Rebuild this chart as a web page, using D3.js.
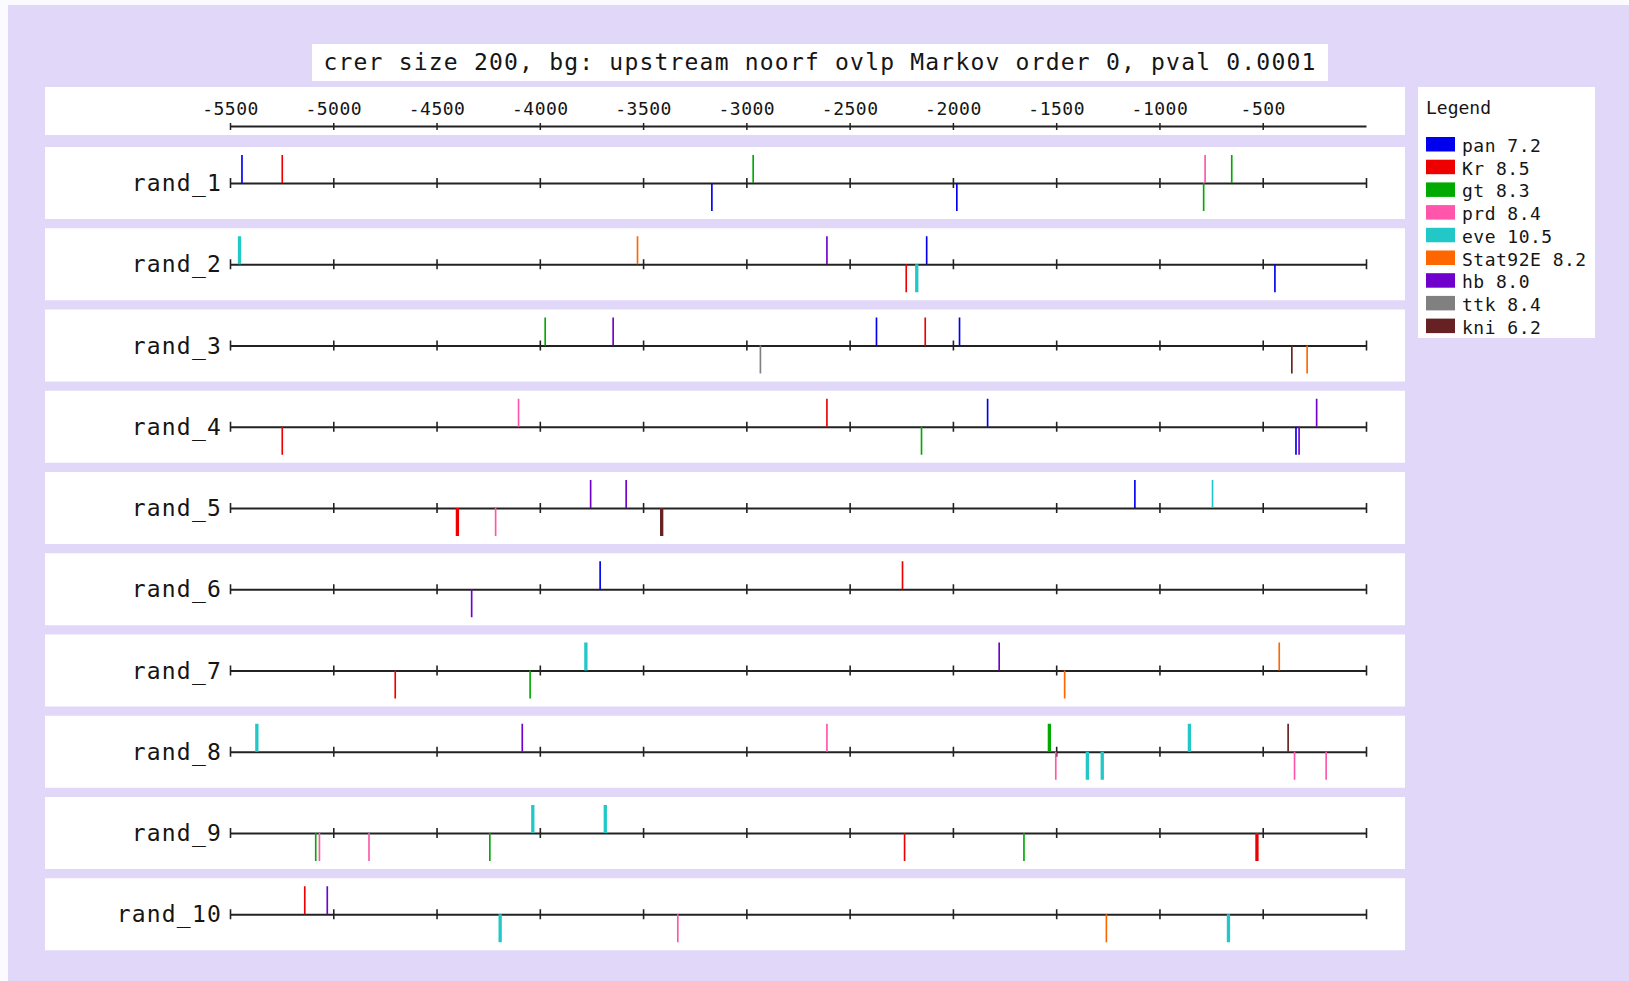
<!DOCTYPE html>
<html>
<head>
<meta charset="utf-8">
<script src="https://cdn.jsdelivr.net/npm/d3@7"></script>
<style>
  body { margin: 0; background: #fbfaff; }
  text { font-family: "DejaVu Sans Mono", monospace; fill: #151515; }
</style>
</head>
<body>
<svg id="chart"></svg>
<script>
// title and axis
var title = "crer size 200, bg: upstream noorf ovlp Markov order 0, pval 0.0001";
var axisStart = -5500, axisEnd = 0;
var axisTicks = [-5500, -5000, -4500, -4000, -3500, -3000, -2500, -2000, -1500, -1000, -500];

// factors shown in the legend
var factors = ["pan", "Kr", "gt", "prd", "eve", "Stat92E", "hb", "ttk", "kni"];
var thresholds = [7.2, 8.5, 8.3, 8.4, 10.5, 8.2, 8.0, 8.4, 6.2];

// sequences
var sequences = ["rand_1", "rand_2", "rand_3", "rand_4", "rand_5", "rand_6", "rand_7", "rand_8", "rand_9", "rand_10"];

// hits per sequence: [factor, position, strand, site length]
var rand1 = [["pan", -5442, "+", 8], ["Kr", -5247, "+", 8], ["pan", -3167, "-", 8], ["gt", -2967, "+", 8],
  ["pan", -1981, "-", 8], ["prd", -779, "+", 8], ["gt", -786, "-", 8], ["gt", -650, "+", 8]];
var rand2 = [["eve", -5454, "+", 16], ["Stat92E", -3527, "+", 8], ["hb", -2610, "+", 8], ["pan", -2127, "+", 8],
  ["Kr", -2226, "-", 8], ["eve", -2175, "-", 16], ["pan", -441, "-", 8]];
var rand3 = [["gt", -3974, "+", 8], ["hb", -3645, "+", 8], ["ttk", -2932, "-", 8], ["pan", -2370, "+", 8],
  ["Kr", -2134, "+", 8], ["pan", -1968, "+", 8], ["kni", -359, "-", 8], ["Stat92E", -285, "-", 8]];
var rand4 = [["Kr", -5247, "-", 8], ["prd", -4103, "+", 8], ["Kr", -2610, "+", 8], ["gt", -2152, "-", 8],
  ["pan", -1832, "+", 8], ["pan", -339, "-", 8], ["hb", -324, "-", 8], ["hb", -239, "+", 8]];
var rand5 = [["Kr", -4399, "-", 16], ["prd", -4214, "-", 8], ["hb", -3754, "+", 8], ["hb", -3582, "+", 8],
  ["kni", -3410, "-", 16], ["pan", -1119, "+", 8], ["eve", -743, "+", 8]];
var rand6 = [["hb", -4330, "-", 8], ["pan", -3708, "+", 8], ["Kr", -2244, "+", 8]];
var rand7 = [["Kr", -4700, "-", 8], ["gt", -4047, "-", 8], ["eve", -3777, "+", 16], ["hb", -1776, "+", 8],
  ["Stat92E", -1459, "-", 8], ["Stat92E", -420, "+", 8]];
var rand8 = [["eve", -5370, "+", 16], ["hb", -4085, "+", 8], ["prd", -2610, "+", 8], ["gt", -1533, "+", 16],
  ["prd", -1502, "-", 8], ["eve", -1349, "-", 16], ["eve", -1277, "-", 16], ["eve", -855, "+", 16],
  ["kni", -377, "+", 8], ["prd", -346, "-", 8], ["prd", -193, "-", 8]];
var rand9 = [["gt", -5085, "-", 8], ["prd", -5067, "-", 8], ["prd", -4827, "-", 8], ["gt", -4242, "-", 8],
  ["eve", -4034, "+", 16], ["eve", -3683, "+", 16], ["Kr", -2234, "-", 8], ["gt", -1656, "-", 8],
  ["Kr", -528, "-", 16]];
var rand10 = [["Kr", -5138, "+", 8], ["hb", -5029, "+", 8], ["eve", -4192, "-", 16], ["prd", -3332, "-", 8],
  ["Stat92E", -1257, "-", 8], ["eve", -666, "-", 16]];
var hits = [rand1, rand2, rand3, rand4, rand5, rand6, rand7, rand8, rand9, rand10];

var palette = ["#0000ee", "#ee0000", "#00aa00", "#ff55aa", "#22c8c8", "#ff6600", "#7000cc", "#808080", "#662222"];

var width = 1629, height = 981;
var svg = d3.select("#chart").attr("width", width).attr("height", height);

// lavender panel
svg.append("rect").attr("x", 8).attr("y", 5).attr("width", width - 8).attr("height", height - 5)
  .attr("fill", "#e1d7f9");

var x = d3.scaleLinear().domain([axisStart, axisEnd]).range([230, 1366]);
var color = d3.scaleOrdinal().domain(factors).range(palette);

var step = 81.25, band = 72;
var y = d3.scaleBand().domain(sequences)
  .range([147, 147 + sequences.length * step - (step - band)])
  .paddingInner((step - band) / step);

// title
svg.append("rect").attr("x", 312).attr("y", 44).attr("width", 1016).attr("height", 37).attr("fill", "#fff");
svg.append("text").attr("x", 820).attr("y", 70).attr("text-anchor", "middle")
  .style("font-size", "23px").style("letter-spacing", "1.2px").text(title);

// top axis
svg.append("rect").attr("x", 45).attr("y", 87).attr("width", 1360).attr("height", 48).attr("fill", "#fff");
var topAxis = svg.append("g").attr("transform", "translate(0,126)")
  .call(d3.axisTop(x).tickValues(axisTicks).tickSizeOuter(0).tickFormat(function (d) { return String(d); }));
topAxis.select(".domain").attr("stroke", "#222").attr("stroke-width", 2);
topAxis.selectAll(".tick line").attr("y1", -3).attr("y2", 4).attr("stroke", "#222").attr("stroke-width", 1.5);
topAxis.selectAll(".tick text").attr("y", -11).attr("dy", 0)
  .style("font-family", "DejaVu Sans Mono").style("font-size", "18px").style("letter-spacing", "0.5px")
  .attr("fill", "#151515");

// rows
var rows = svg.selectAll("g.row").data(sequences).enter().append("g")
  .attr("class", "row")
  .attr("transform", function (d) { return "translate(0," + y(d) + ")"; });

rows.append("rect").attr("x", 45).attr("width", 1360).attr("height", y.bandwidth()).attr("fill", "#fff");

rows.append("text").attr("x", 222).attr("y", band / 2 + 8).attr("text-anchor", "end")
  .style("font-size", "23px").style("letter-spacing", "1.2px")
  .text(function (d) { return d; });

rows.each(function (d, i) {
  var g = d3.select(this);
  var mid = band / 2;
  var ax = g.append("g").attr("transform", "translate(0," + mid + ")")
    .call(d3.axisBottom(x).tickValues(axisTicks.concat([axisEnd])).tickSizeOuter(0).tickFormat(""));
  ax.select(".domain").attr("stroke", "#222").attr("stroke-width", 2);
  ax.selectAll(".tick line").attr("y1", -5).attr("y2", 5).attr("stroke", "#222").attr("stroke-width", 1.6);

  g.selectAll("rect.hit").data(hits[i]).enter().append("rect")
    .attr("class", "hit")
    .attr("x", function (h) { return x(h[1]) - (x(h[1] + h[3]) - x(h[1])) / 2; })
    .attr("width", function (h) { return x(h[1] + h[3]) - x(h[1]); })
    .attr("y", function (h) { return h[2] === "+" ? mid - 28 : mid; })
    .attr("height", 28)
    .attr("fill", function (h) { return color(h[0]); });
});

// legend
var legend = svg.append("g");
legend.append("rect").attr("x", 1418).attr("y", 87).attr("width", 177).attr("height", 251).attr("fill", "#fff");
legend.append("text").attr("x", 1426).attr("y", 114).style("font-size", "18px").text("Legend");
var items = legend.selectAll("g.item").data(factors).enter().append("g")
  .attr("transform", function (d, i) { return "translate(1426," + (137 + i * 22.7) + ")"; });
items.append("rect").attr("width", 29).attr("height", 14.5).attr("fill", function (d) { return color(d); });
items.append("text").attr("x", 36).attr("y", 15).style("font-size", "18px").style("letter-spacing", "0.5px")
  .text(function (d, i) { return d + " " + thresholds[i].toFixed(1); });
</script>
</body>
</html>
